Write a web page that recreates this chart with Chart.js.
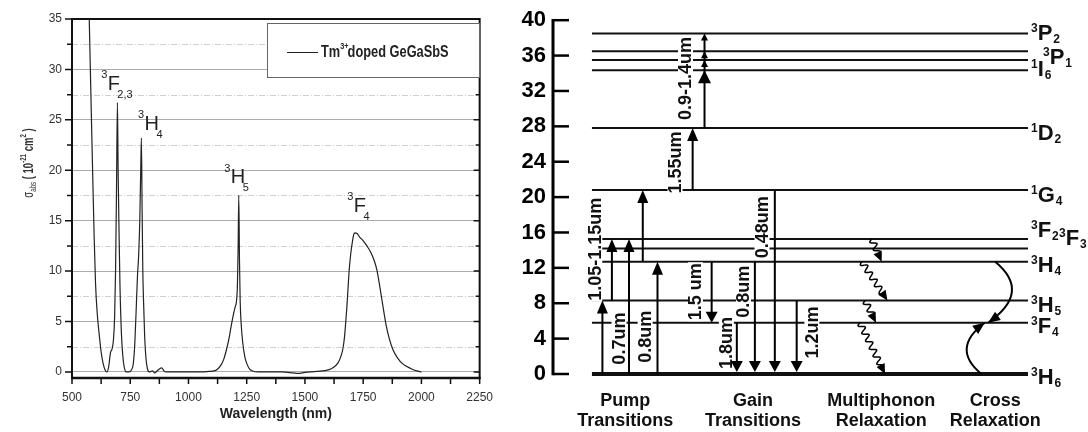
<!DOCTYPE html>
<html>
<head>
<meta charset="utf-8">
<title>Tm3+ GeGaSbS absorption and energy levels</title>
<script src="https://cdn.jsdelivr.net/npm/chart.js@4.4.0/dist/chart.umd.min.js"></script>
<style>
  html, body { margin: 0; padding: 0; background: #fff; }
  #wrap { position: relative; width: 1088px; height: 432px; overflow: hidden; }
  #spectrum { position: absolute; left: 0; top: 0; }
  #levels { position: absolute; left: 505px; top: 0; }
</style>
</head>
<body>
<div id="wrap">
  <canvas id="spectrum" width="505" height="432"></canvas>
  <canvas id="levels" width="583" height="432"></canvas>
</div>
<script>
const FONT = '"Liberation Sans", Arial, sans-serif';

// ---- absorption spectrum (nm, 10^-21 cm^2) ----
const wavelength = [
  565, 574, 581, 588, 595, 601, 608, 616, 625, 633, 642, 650,
  658, 665, 672, 678, 683, 687, 691, 695, 698, 702, 706, 712, 718, 724, 733,
  745, 755, 763, 770, 776, 781, 786, 791, 795, 798, 801, 804, 807, 812, 817, 823,
  832, 845, 855, 865, 875, 885, 895, 905, 950, 1000, 1050, 1090,
  1110, 1123, 1140, 1152, 1163, 1173, 1183, 1193, 1200, 1206, 1210, 1213, 1216,
  1219, 1222, 1227, 1233, 1242, 1251, 1262, 1275, 1300, 1350, 1400, 1450, 1470,
  1500, 1550, 1600, 1625, 1642, 1655, 1663, 1670, 1676, 1681, 1686, 1691, 1697,
  1703, 1709, 1715, 1725, 1734, 1750, 1769, 1784, 1798, 1809, 1819, 1828, 1837,
  1848, 1862, 1878, 1897, 1920, 1954, 1980, 2000
];
const sigmaAbs = [
  44, 35, 27.7, 20.4, 13.5, 8.8, 5.9, 3.9, 2.0, 0.9, 0.2, 0,
  0.6, 1.9, 2.3, 3.2, 5.5, 10, 18, 26.7, 20, 13.8, 8.5, 3.9, 1.6, 0.5, 0,
  0, 0.2, 0.8, 3, 6.5, 9.5, 11.5, 15, 20, 23.2, 16, 10, 7.1, 3.5, 1.5, 0.4,
  0, 0.1, -0.1, 0.1, 0.3, 0.4, 0.1, 0, 0, 0, 0, 0.05,
  0.1, 0.25, 0.7, 1.3, 2.2, 3.2, 4.5, 5.7, 6.4, 7.0, 8.5, 12, 17.5,
  11, 7, 4.5, 2.9, 1.5, 0.8, 0.3, 0.1, 0, 0, 0, -0.1, -0.15,
  -0.05, 0.05, 0.2, 0.5, 0.9, 1.6, 2.3, 3.5, 5.2, 6.8, 8.7, 10.4, 11.8,
  12.8, 13.6, 13.8, 13.7, 13.4, 13.0, 12.4, 11.8, 11.0, 10.1, 8.8, 7.5, 6.2,
  4.7, 3.3, 2.2, 1.4, 0.8, 0.35, 0.1, 0
];
const wavelengthTicks = [500, 625, 750, 875, 1000, 1125, 1250, 1375, 1500, 1625, 1750, 1875, 2000, 2125, 2250];
const sigmaTicks = [0, 2.5, 5, 7.5, 10, 12.5, 15, 17.5, 20, 22.5, 25, 27.5, 30, 32.5, 35];

// peak assignments: term letter with multiplicity and J, anchored at (nm, sigma)
const peakSup = ['3', '3', '3', '3'];
const peakTerm = ['F', 'H', 'H', 'F'];
const peakSub = ['2,3', '4', '5', '4'];
const peakAnchorNm = [653, 811, 1182, 1710];
const peakAnchorSigma = [28.0, 24.0, 18.7, 15.9];

// ---- energy level diagram (10^3 cm^-1) ----
const energyTicks = [0, 4, 8, 12, 16, 20, 24, 28, 32, 36, 40];
const levelEnergy = [0, 5.8, 8.3, 12.7, 14.2, 15.25, 20.8, 27.8, 34.35, 35.5, 36.5, 38.5];
const levelSup = ['3', '3', '3', '3', '3', '3', '1', '1', '1', '3', '3', '3'];
const levelTerm = ['H', 'F', 'H', 'H', 'F', 'F', 'G', 'D', 'I', 'P', 'P', 'P'];
const levelSub = ['6', '4', '5', '4', '3', '2', '4', '2', '6', '0', '1', '2'];
const levelSpan = [8.2, 100];

// pump and excited state absorption (upward)
const pumpX = [10.4, 12.4, 16.0, 18.9, 22.0, 29.4];
const pumpFrom = [0, 8.3, 0, 12.7, 0, 20.8];
const pumpTo = [8.3, 15.25, 15.25, 20.8, 12.7, 27.8];
const esaX = 31.9;
const esaFrom = 27.8;
const esaTo = [34.35, 35.5, 36.5, 38.5];

// gain transitions (downward)
const gainX = [33.4, 38.7, 42.5, 46.7, 51.3];
const gainFrom = [12.7, 5.8, 12.7, 20.8, 8.3];
const gainTo = [5.8, 0, 0, 0, 0];

const transLabel = ['1.05-1.15um', '0.7um', '0.8um', '1.55um', '0.9-1.4um', '1.5 um', '1.8um', '0.8um', '0.48um', '1.2um'];
const transLabelX = [8.8, 13.9, 19.4, 25.7, 27.9, 30.0, 36.5, 40.1, 44.0, 54.5];
const transLabelE = [14.1, 4.0, 4.2, 23.9, 33.4, 9.3, 3.5, 9.3, 16.6, 4.7];

// multiphonon relaxation (wavy)
const phononFrom = [15.25, 12.7, 8.3, 5.8];
const phononTo = [12.7, 8.3, 5.8, 0];
const phononX0 = [67.1, 65.0, 65.7, 64.6];
const phononX1 = [69.2, 70.4, 68.0, 69.9];

// cross relaxation 3H4 + 3H6 -> 3F4 + 3F4
const crossFrom = [12.7, 0];
const crossTo = [5.8, 5.8];
const crossX0 = [93.1, 90.2];
const crossX1 = [91.6, 90.9];
const crossBulgeX = [96.6, 87.1];

const columnTitle = ['Pump', 'Gain', 'Multiphonon', 'Cross'];
const columnSubtitle = ['Transitions', 'Transitions', 'Relaxation', 'Relaxation'];
const columnX = [15.2, 42.1, 69.1, 93.1];

// label placement tweaks (px) for the level names
const levelLabelStyle = [
  { dx: 0, dy: 2 }, { dx: 0, dy: 2.6 }, { dx: 0, dy: 3.4 }, { dx: 0, dy: 2.5 },
  { dx: 28, dy: -11 }, { dx: 0, dy: -9.8 }, { dx: 0, dy: 3.6 }, { dx: 0, dy: 3.4 },
  { dx: 0, dy: -1.8 }, null, { dx: 12, dy: 4.4 }, { dx: 0, dy: -1.2 }
];

// ---------- helpers ----------
function drawRich(ctx, parts, x, y, sx) {
  // parts: [text, font, dy]
  let total = 0;
  parts.forEach(p => { ctx.font = p[1]; total += ctx.measureText(p[0]).width; });
  ctx.save();
  ctx.translate(x, y);
  ctx.scale(sx, 1);
  let cx = -total / 2;
  parts.forEach(p => {
    ctx.font = p[1];
    ctx.fillText(p[0], cx, p[2]);
    cx += ctx.measureText(p[0]).width;
  });
  ctx.restore();
}

function arrowHead(ctx, x, y, ang, len, half) {
  ctx.save();
  ctx.translate(x, y);
  ctx.rotate(ang);
  ctx.beginPath();
  ctx.moveTo(0, 0);
  ctx.lineTo(-len, -half);
  ctx.lineTo(-len, half);
  ctx.closePath();
  ctx.fill();
  ctx.restore();
}

function vArrow(ctx, xp, y0, y1, len, half) {
  const dir = y1 < y0 ? -1 : 1;
  ctx.beginPath();
  ctx.moveTo(xp, y0);
  ctx.lineTo(xp, y1 - dir * len * 0.7);
  ctx.stroke();
  arrowHead(ctx, xp, y1, dir < 0 ? -Math.PI / 2 : Math.PI / 2, len, half);
}

function wavyArrow(ctx, x0, y0, x1, y1) {
  const dx = x1 - x0, dy = y1 - y0, L = Math.hypot(dx, dy);
  const ux = dx / L, uy = dy / L, nx = -uy, ny = ux;
  const head = 10, run = L - head;
  ctx.beginPath();
  for (let s = 0; s <= run; s += 0.5) {
    const off = 3 * Math.sin(s / 8.5 * 2 * Math.PI);
    const X = x0 + ux * s + nx * off, Y = y0 + uy * s + ny * off;
    if (s === 0) ctx.moveTo(X, Y); else ctx.lineTo(X, Y);
  }
  ctx.lineTo(x1 - ux * head * 0.5, y1 - uy * head * 0.5);
  ctx.stroke();
  arrowHead(ctx, x1, y1, Math.atan2(dy, dx), head, 4.5);
}

function curvedArrow(ctx, p0, pm, p2) {
  const c = { x: 2 * pm.x - (p0.x + p2.x) / 2, y: 2 * pm.y - (p0.y + p2.y) / 2 };
  ctx.beginPath();
  ctx.moveTo(p0.x, p0.y);
  ctx.quadraticCurveTo(c.x, c.y, p2.x, p2.y);
  ctx.stroke();
  arrowHead(ctx, p2.x, p2.y, Math.atan2(p2.y - c.y, p2.x - c.x), 12, 5);
}

function rotatedLabel(ctx, text, x, y) {
  ctx.save();
  ctx.translate(x, y);
  ctx.rotate(-Math.PI / 2);
  const w = ctx.measureText(text).width;
  ctx.fillStyle = '#fff';
  ctx.fillRect(-w / 2 - 1, -7.5, w + 2, 15);
  ctx.fillStyle = '#111';
  ctx.textAlign = 'center';
  ctx.textBaseline = 'middle';
  ctx.fillText(text, 0, 1);
  ctx.restore();
}

function termLabel(ctx, x, yc, sup, term, sub) {
  const base = yc + 8;
  ctx.textAlign = 'left';
  ctx.textBaseline = 'alphabetic';
  ctx.font = 'bold 12px ' + FONT;
  ctx.fillText(sup, x, base - 8);
  const sw = ctx.measureText(sup).width;
  ctx.font = 'bold 22px ' + FONT;
  ctx.fillText(term, x + sw, base);
  const tw = ctx.measureText(term).width;
  ctx.font = 'bold 12px ' + FONT;
  ctx.fillText(sub, x + sw + tw + 1, base + 3);
}

// ---------- spectrum ----------
const spectrumDecor = {
  id: 'spectrumDecor',
  beforeDatasetsDraw(chart) {
    const { ctx, chartArea: a, scales: { y } } = chart;
    ctx.save();
    ctx.strokeStyle = '#cfcfcf';
    ctx.lineWidth = 1;
    ctx.setLineDash([6, 2, 1, 2]);
    sigmaTicks.filter(v => v % 5 !== 0).forEach(v => {
      const p = Math.round(y.getPixelForValue(v)) + 0.5;
      ctx.beginPath();
      ctx.moveTo(a.left, p);
      ctx.lineTo(a.right, p);
      ctx.stroke();
    });
    ctx.restore();
  },
  afterDraw(chart) {
    const { ctx, chartArea: a, scales: { x, y } } = chart;
    ctx.save();
    // frame
    ctx.strokeStyle = '#111';
    ctx.lineWidth = 2;
    ctx.strokeRect(a.left, a.top, a.right - a.left, a.bottom - a.top);
    ctx.lineWidth = 2.5;
    ctx.beginPath();
    ctx.moveTo(a.left - 1, a.bottom);
    ctx.lineTo(a.right + 1, a.bottom);
    ctx.stroke();
    // tick marks
    ctx.lineWidth = 1.5;
    sigmaTicks.forEach(v => {
      const p = y.getPixelForValue(v);
      const major = v % 5 === 0;
      ctx.beginPath();
      ctx.moveTo(a.left, p);
      ctx.lineTo(a.left - (major ? 7 : 5), p);
      ctx.moveTo(a.right, p);
      ctx.lineTo(a.right - (major ? 6 : 4), p);
      ctx.stroke();
    });
    wavelengthTicks.forEach(v => {
      const p = x.getPixelForValue(v);
      ctx.beginPath();
      ctx.moveTo(p, a.bottom);
      ctx.lineTo(p, a.bottom + 6);
      ctx.stroke();
    });

    // legend
    ctx.fillStyle = '#fff';
    ctx.fillRect(267, 23, 212, 54);
    ctx.strokeStyle = '#666';
    ctx.lineWidth = 1;
    ctx.strokeRect(267.5, 23.5, 212, 54);
    ctx.strokeStyle = '#222';
    ctx.beginPath();
    ctx.moveTo(287, 52.5);
    ctx.lineTo(318, 52.5);
    ctx.stroke();
    ctx.fillStyle = '#222';
    ctx.save();
    ctx.translate(321, 57);
    ctx.scale(0.8, 1);
    ctx.textAlign = 'left';
    ctx.font = 'bold 16px ' + FONT;
    ctx.fillText('Tm', 0, 0);
    let cx = ctx.measureText('Tm').width;
    ctx.font = 'bold 9px ' + FONT;
    ctx.fillText('3+', cx, -8);
    cx += ctx.measureText('3+').width - 1;
    ctx.font = 'bold 16px ' + FONT;
    ctx.fillText('doped GeGaSbS', cx, 0);
    ctx.restore();

    // peak assignments
    ctx.fillStyle = '#222';
    ctx.textAlign = 'left';
    peakTerm.forEach((t, i) => {
      const px = x.getPixelForValue(peakAnchorNm[i]);
      const py = y.getPixelForValue(peakAnchorSigma[i]);
      ctx.font = '20px ' + FONT;
      const tw = ctx.measureText(t).width;
      ctx.fillText(t, px, py);
      ctx.font = '11px ' + FONT;
      ctx.fillText(peakSup[i], px - 6.5, py - 11.5);
      ctx.fillText(peakSub[i], px + tw - 2.5, py + 8);
    });

    // y axis title
    ctx.save();
    ctx.translate(33, 163);
    ctx.rotate(-Math.PI / 2);
    ctx.fillStyle = '#333';
    drawRich(ctx, [
      ['\u03c3', '14px ' + FONT, 0],
      ['abs', '9px ' + FONT, 3],
      [' ( 10', 'bold 14px ' + FONT, 0],
      ['-21', 'bold 9px ' + FONT, -7],
      [' cm', 'bold 14px ' + FONT, 0],
      ['2', 'bold 9px ' + FONT, -7],
      [' )', 'bold 14px ' + FONT, 0]
    ], 0, 0, 0.68);
    ctx.restore();
    ctx.restore();
  }
};

new Chart(document.getElementById('spectrum'), {
  type: 'scatter',
  data: {
    datasets: [{
      label: 'Tm3+ doped GeGaSbS',
      data: wavelength.map((w, i) => ({ x: w, y: sigmaAbs[i] })),
      showLine: true,
      pointRadius: 0,
      borderColor: '#222',
      borderWidth: 1.2,
      cubicInterpolationMode: 'monotone'
    }]
  },
  options: {
    responsive: false,
    animation: false,
    events: [],
    layout: { padding: { top: 19, right: 22, left: 0, bottom: 0 } },
    plugins: { legend: { display: false }, tooltip: { enabled: false } },
    scales: {
      x: {
        type: 'linear', min: 500, max: 2250,
        afterBuildTicks: s => { s.ticks = wavelengthTicks.filter(v => v % 250 === 0).map(v => ({ value: v })); },
        ticks: { color: '#333', font: { family: FONT, size: 12 }, padding: 12, maxRotation: 0, callback: v => String(v) },
        grid: { display: false, drawTicks: false },
        border: { display: false },
        title: { display: true, text: 'Wavelength (nm)', color: '#222', font: { family: FONT, size: 14, weight: 'bold' }, padding: { top: 0, bottom: 9 } },
        afterFit: s => { s.height = 54; }
      },
      y: {
        min: -0.6, max: 35,
        afterBuildTicks: s => { s.ticks = sigmaTicks.map(v => ({ value: v })); },
        ticks: { color: '#333', font: { family: FONT, size: 12 }, padding: 10, callback: v => (v % 5 === 0 ? String(v) : '') },
        grid: { drawTicks: false, lineWidth: 1, color: ctx => (ctx.tick && ctx.tick.value % 5 === 0 ? '#ababab' : 'rgba(0,0,0,0)') },
        border: { display: false },
        afterFit: s => { s.width = 72; }
      }
    }
  },
  plugins: [spectrumDecor]
});

// ---------- energy levels ----------
const levelDecor = {
  id: 'levelDecor',
  afterDatasetsDraw(chart) {
    const { ctx, chartArea: a, scales: { x, y } } = chart;
    const px = v => x.getPixelForValue(v);
    const py = v => y.getPixelForValue(v);
    ctx.save();

    // energy axis with inward ticks
    ctx.strokeStyle = '#000';
    ctx.lineWidth = 3;
    ctx.beginPath();
    ctx.moveTo(a.left, py(40) - 1.25);
    ctx.lineTo(a.left, py(0) + 1.25);
    ctx.stroke();
    ctx.lineWidth = 2.5;
    energyTicks.forEach(v => {
      ctx.beginPath();
      ctx.moveTo(a.left, py(v));
      ctx.lineTo(a.left + 16, py(v));
      ctx.stroke();
    });

    // wavelength labels break the level lines
    ctx.font = 'bold 18px ' + FONT;
    transLabel.forEach((t, i) => rotatedLabel(ctx, t, px(transLabelX[i]), py(transLabelE[i])));

    ctx.fillStyle = '#000';
    ctx.strokeStyle = '#000';
    ctx.lineWidth = 2;

    // pump / ESA
    pumpX.forEach((v, i) => {
      vArrow(ctx, px(v), py(pumpFrom[i]), py(pumpTo[i]), 13, 5.5);
    });
    ctx.beginPath();
    ctx.moveTo(px(esaX), py(esaFrom));
    ctx.lineTo(px(esaX), py(esaTo[esaTo.length - 1]) + 3);
    ctx.stroke();
    esaTo.forEach((e, i) => {
      if (i === 0) arrowHead(ctx, px(esaX), py(e), -Math.PI / 2, 13, 6.5);
      else arrowHead(ctx, px(esaX), py(e), -Math.PI / 2, 7, 3.5);
    });

    // gain
    gainX.forEach((v, i) => {
      const tip = py(gainTo[i]) - (gainTo[i] === 0 ? 2 : 0);
      vArrow(ctx, px(v), py(gainFrom[i]), tip, 11, 6);
    });

    // multiphonon
    ctx.lineWidth = 1.5;
    phononFrom.forEach((e, i) => {
      wavyArrow(ctx, px(phononX0[i]), py(e), px(phononX1[i]), py(phononTo[i]));
    });

    // cross relaxation
    ctx.lineWidth = 2;
    crossFrom.forEach((e, i) => {
      curvedArrow(ctx,
        { x: px(crossX0[i]), y: py(e) },
        { x: px(crossBulgeX[i]), y: py((e + crossTo[i]) / 2) },
        { x: px(crossX1[i]), y: py(crossTo[i]) });
    });

    // level names
    ctx.fillStyle = '#111';
    levelEnergy.forEach((e, i) => {
      const st = levelLabelStyle[i];
      if (!st) return;
      termLabel(ctx, a.right + 3 + st.dx, py(e) + st.dy, levelSup[i], levelTerm[i], levelSub[i]);
    });

    // column titles
    ctx.font = 'bold 18px ' + FONT;
    ctx.textAlign = 'center';
    ctx.textBaseline = 'middle';
    columnTitle.forEach((t, i) => {
      ctx.fillText(t, px(columnX[i]), a.bottom + 27);
      ctx.fillText(columnSubtitle[i], px(columnX[i]), a.bottom + 47);
    });
    ctx.restore();
  }
};

new Chart(document.getElementById('levels'), {
  type: 'scatter',
  data: {
    datasets: levelEnergy.map((e, i) => ({
      label: levelSup[i] + levelTerm[i] + levelSub[i],
      data: [{ x: levelSpan[0], y: e }, { x: levelSpan[1], y: e }],
      showLine: true,
      pointRadius: 0,
      borderColor: '#111',
      borderWidth: e === 0 ? 4 : 2,
      clip: false
    }))
  },
  options: {
    responsive: false,
    animation: false,
    events: [],
    layout: { padding: { top: 18, right: 60, bottom: 58, left: 0 } },
    plugins: { legend: { display: false }, tooltip: { enabled: false } },
    scales: {
      x: { type: 'linear', min: 0, max: 100, display: false },
      y: {
        min: 0, max: 40,
        afterBuildTicks: s => { s.ticks = energyTicks.map(v => ({ value: v })); },
        ticks: { color: '#000', font: { family: FONT, size: 22, weight: 'bold' }, padding: 7 },
        grid: { display: false, drawTicks: false },
        border: { display: false },
        afterFit: s => { s.width = 48; }
      }
    }
  },
  plugins: [levelDecor]
});
</script>
</body>
</html>
